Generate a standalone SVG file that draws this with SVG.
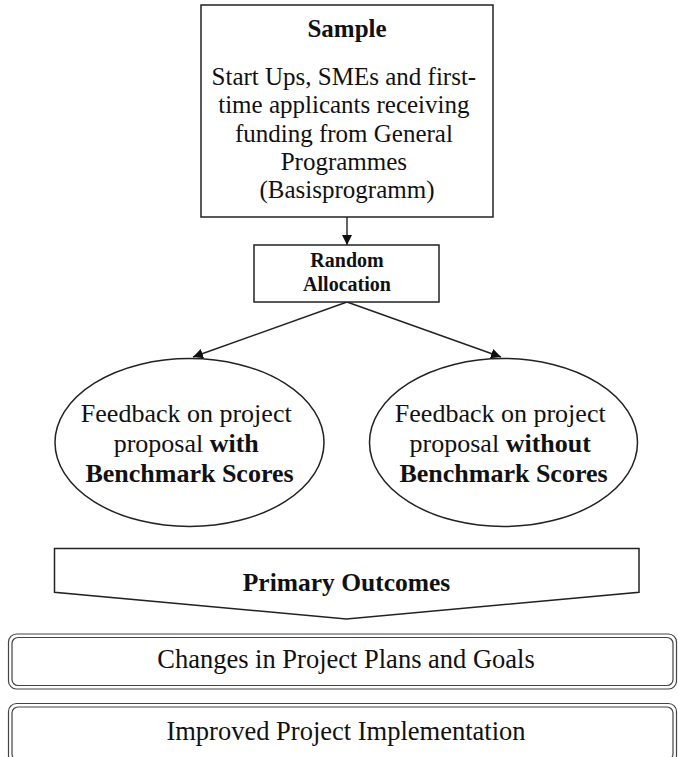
<svg xmlns="http://www.w3.org/2000/svg" width="678" height="757" viewBox="0 0 678 757">
<defs>
<style>
.shape{fill:#fff;stroke:#222;stroke-width:1.5}
.dbl{fill:#fff;stroke:#444;stroke-width:1.2}
.conn{fill:none;stroke:#222;stroke-width:1.4}
.t{font-family:"Liberation Serif","Times New Roman",serif;fill:#111;text-anchor:middle}
.b{font-weight:bold}
</style>
<marker id="ah" viewBox="0 0 10 10" refX="10" refY="5" markerWidth="10" markerHeight="10" markerUnits="userSpaceOnUse" orient="auto">
<path d="M0,0 L10,5 L0,10 z" fill="#111"/>
</marker>
</defs>
<rect width="678" height="757" fill="#fff"/>
<g id="connectors">
<line class="conn" x1="347" y1="217" x2="347" y2="245" marker-end="url(#ah)"/>
<line class="conn" x1="347" y1="302" x2="193" y2="357" marker-end="url(#ah)"/>
<line class="conn" x1="347" y1="302" x2="501" y2="357" marker-end="url(#ah)"/>
</g>
<g id="sample">
<rect class="shape" x="201" y="5" width="292" height="212"/>
<text class="t b" x="347" y="37" font-size="25">Sample</text>
<text class="t" font-size="25">
<tspan x="347" y="85">Start Ups, SMEs and first-</tspan>
<tspan x="347" y="113.3">time applicants receiving</tspan>
<tspan x="347" y="141.7">funding from General</tspan>
<tspan x="347" y="170">Programmes</tspan>
<tspan x="347" y="198">(Basisprogramm)</tspan>
</text>
</g>
<g id="random">
<rect class="shape" x="254" y="245" width="185" height="57"/>
<text class="t b" font-size="20"><tspan x="347" y="267">Random</tspan><tspan x="347" y="291">Allocation</tspan></text>
</g>
<g id="with">
<ellipse class="shape" cx="189.5" cy="442.5" rx="134.5" ry="84"/>
<text class="t" font-size="26">
<tspan x="189.5" y="422">Feedback on project</tspan>
<tspan x="189.5" y="452">proposal <tspan class="b">with</tspan></tspan>
<tspan x="189.5" y="482" class="b">Benchmark Scores</tspan>
</text>
</g>
<g id="without">
<ellipse class="shape" cx="503.5" cy="442.5" rx="134" ry="84"/>
<text class="t" font-size="26">
<tspan x="503.5" y="422">Feedback on project</tspan>
<tspan x="503.5" y="452">proposal <tspan class="b">without</tspan></tspan>
<tspan x="503.5" y="482" class="b">Benchmark Scores</tspan>
</text>
</g>
<g id="outcomes">
<polygon class="shape" points="54.5,548.5 639,548.5 639,592.3 346.5,619 54.5,592.3"/>
<text class="t b" x="346.5" y="591" font-size="25.5">Primary Outcomes</text>
</g>
<g id="changes">
<rect class="dbl" x="8.5" y="634" width="668" height="55" rx="8"/>
<rect class="dbl" x="12" y="637.5" width="661" height="48" rx="6"/>
<text class="t" x="346" y="668" font-size="26.5">Changes in Project Plans and Goals</text>
</g>
<g id="improved">
<rect class="dbl" x="8.5" y="703.5" width="668" height="60" rx="8"/>
<rect class="dbl" x="12" y="707" width="661" height="53" rx="6"/>
<text class="t" x="346" y="740" font-size="26.5">Improved Project Implementation</text>
</g>
</svg>
